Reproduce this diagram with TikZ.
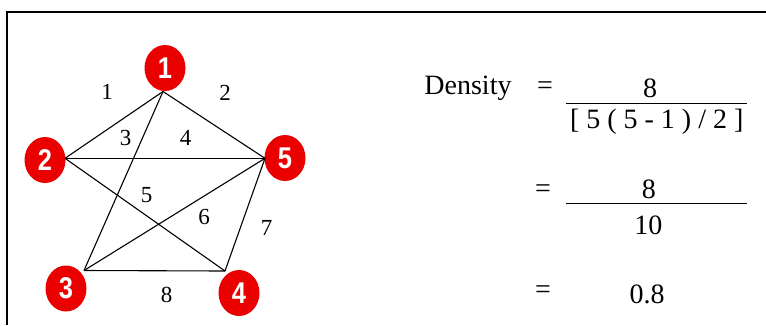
\documentclass[tikz,border=0pt]{standalone}
\usepackage{fontspec}
\setmainfont{Liberation Serif}
\newfontfamily\nodenumfont[FakeStretch=0.85]{Liberation Sans}
\usetikzlibrary{shapes.geometric}
\definecolor{nodered}{RGB}{235,0,0}
\tikzset{
  vert/.style={ellipse, fill=nodered, draw=none, inner sep=0pt, minimum width=41pt, minimum height=46pt,
    text=white, font=\nodenumfont\bfseries\fontsize{30}{32}\selectfont},
  edge/.style={draw=black, line width=1.1pt},
  elabel/.style={inner sep=0pt, font=\fontsize{23}{26}\selectfont},
  eqtext/.style={inner sep=0pt, font=\fontsize{28}{32}\selectfont},
  fracrule/.style={line width=1.4pt},
  frame/.style={line width=2pt}
}
\begin{document}
\begin{tikzpicture}[x=1pt,y=-1pt]
\useasboundingbox (0,0) rectangle (766,325);
\fill[white] (0,0) rectangle (766,325);
% frame
\coordinate (fbl) at (6.5,325);
\coordinate (ftl) at (6.5,12);
\coordinate (ftr) at (766,12);
\draw[frame] (fbl) -- (ftl) -- (ftr);
% vertices
\node[vert] (n1) at (165,68) {1};
\node[vert] (n2) at (45,160) {2};
\node[vert] (n5) at (285,158) {5};
\node[vert] (n3) at (66,288.5) {3};
\node[vert] (n4) at (239,293) {4};
% junction points
\coordinate (v1) at (163,91.5);
\coordinate (v2) at (65,158.3);
\coordinate (v5) at (265,158.3);
\coordinate (v3) at (84,270.5);
\coordinate (v4) at (225,271);
% edges
\draw[edge] (v1) -- (v2);
\draw[edge] (v1) -- (v5);
\draw[edge] (v1) -- (v3);
\draw[edge] (v2) -- (v5);
\draw[edge] (v2) -- (v4);
\draw[edge] (v5) -- (v3);
\draw[edge] (v5) -- (v4);
\draw[edge] (v3) -- (v4);
% edge labels
\node[elabel] (l1) at (107,91.7) {1};
\node[elabel] (l2) at (225,93) {2};
\node[elabel] (l3) at (125.7,138) {3};
\node[elabel] (l4) at (185.7,138) {4};
\node[elabel] (l5) at (146.7,195) {5};
\node[elabel] (l6) at (204,216.7) {6};
\node[elabel] (l7) at (266.7,228) {7};
\node[elabel] (l8) at (166.7,295) {8};
% equations
\node[eqtext] (dens) at (468,88) {Density};
\node[eqtext] (eq1) at (545,88) {=};
\node[eqtext] (num1) at (650,88) {8};
\coordinate (r1a) at (566,103.3);
\coordinate (r1b) at (747,103.3);
\draw[fracrule] (r1a) -- (r1b);
\node[eqtext] (den1) at (656.7,122) {[ 5 ( 5 - 1 ) / 2 ]};
\node[eqtext] (eq2) at (543,191) {=};
\node[eqtext] (num2) at (648.8,189.7) {8};
\coordinate (r2a) at (566,203.5);
\coordinate (r2b) at (747,203.5);
\draw[fracrule] (r2a) -- (r2b);
\node[eqtext] (den2) at (648.3,225) {10};
\node[eqtext] (eq3) at (543,292) {=};
\node[eqtext] (res) at (647,294) {0.8};
\end{tikzpicture}
\end{document}
